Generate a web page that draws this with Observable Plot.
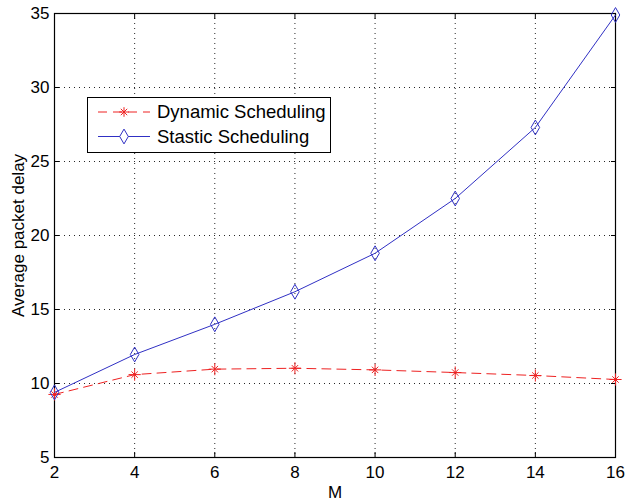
<!DOCTYPE html>
<html><head><meta charset="utf-8">
<script src="https://cdn.jsdelivr.net/npm/d3@7"></script>
<script src="https://cdn.jsdelivr.net/npm/@observablehq/plot@0.6"></script>
<style>
body{margin:0;background:#fff;font-family:"Liberation Sans",Arial,sans-serif;}
#wrap{position:relative;width:629px;height:501px;}
#legend{position:absolute;left:87px;top:97px;width:244px;height:56px;border:1px solid #000;background:#fff;box-sizing:border-box;}
</style></head>
<body><div id="wrap"><div id="chart"></div><svg id="legend" width="244" height="56"></svg></div>
<script>
const M = [2, 4, 6, 8, 10, 12, 14, 16];
const dynamic = [9.26, 10.6, 10.97, 11.03, 10.92, 10.74, 10.54, 10.27];
const stastic = [9.4, 11.96, 14.0, 16.2, 18.8, 22.5, 27.3, 34.9];
const xTicks = [2, 4, 6, 8, 10, 12, 14, 16];
const yTicks = [5, 10, 15, 20, 25, 30, 35];
const seriesNames = ["Dynamic Scheduling", "Stastic Scheduling"];
const red = "#ee2222", blue = "#3030c4";

const dyn = M.map((m, i) => ({m, v: dynamic[i]}));
const sta = M.map((m, i) => ({m, v: stastic[i]}));
const font = "Liberation Sans, Arial, sans-serif";
const fs = 17;

const chart = Plot.plot({
  width: 629, height: 501,
  marginLeft: 54, marginRight: 14, marginTop: 13, marginBottom: 44,
  style: {fontFamily: font, fontSize: fs + "px", color: "#000", background: "#fff"},
  x: {domain: [2, 16]},
  y: {domain: [5, 35]},
  marks: [
    Plot.gridX(xTicks, {stroke: "#000", strokeOpacity: 0.85, strokeDasharray: "1,4"}),
    Plot.gridY(yTicks, {stroke: "#000", strokeOpacity: 0.85, strokeDasharray: "1,4"}),
    Plot.axisX(xTicks, {anchor: "bottom", tickSize: -5, text: null, label: null}),
    Plot.axisX(xTicks, {anchor: "top", tickSize: -5, text: null, label: null}),
    Plot.axisY(yTicks, {anchor: "left", tickSize: -5, text: null, label: null}),
    Plot.axisY(yTicks, {anchor: "right", tickSize: -5, text: null, label: null}),
    Plot.axisX(xTicks, {anchor: "bottom", tickSize: 0, tickPadding: 8, fontSize: fs, label: "M", labelAnchor: "center", labelOffset: 40, labelArrow: "none"}),
    Plot.axisY(yTicks, {anchor: "left", tickSize: 0, tickPadding: 5, fontSize: fs, label: "Average packet delay", labelAnchor: "center", labelOffset: 43, labelArrow: "none"}),
    Plot.frame({stroke: "#000", strokeWidth: 1.2}),
    Plot.line(dyn, {x: "m", y: "v", stroke: red, strokeWidth: 1, strokeDasharray: "9,6"}),
    Plot.dot(dyn, {x: "m", y: "v", symbol: "plus", r: 4, stroke: red, strokeWidth: 1}),
    Plot.dot(dyn, {x: "m", y: "v", symbol: "times", r: 3, stroke: red, strokeWidth: 1}),
    Plot.line(sta, {x: "m", y: "v", stroke: blue, strokeWidth: 1}),
    Plot.dot(sta, {x: "m", y: "v", symbol: "diamond", r: 4.5, stroke: blue, fill: "none", strokeWidth: 1})
  ]
});
document.getElementById("chart").append(chart);

// legend
const lg = d3.select("#legend");
const rows = [
  {name: seriesNames[0], color: red, dash: "9,6", sym: "dyn", y: 14},
  {name: seriesNames[1], color: blue, dash: null, sym: "sta", y: 38.5}
];
rows.forEach(r => {
  lg.append("line").attr("x1", 10).attr("x2", 62).attr("y1", r.y).attr("y2", r.y)
    .attr("stroke", r.color).attr("stroke-dasharray", r.dash).attr("stroke-width", 1);
  if (r.sym === "dyn") {
    lg.append("path").attr("transform", `translate(36,${r.y})`)
      .attr("d", "M-4.8,0H4.8M0,-4.8V4.8M-3.2,-3.2L3.2,3.2M-3.2,3.2L3.2,-3.2").attr("stroke", r.color).attr("fill", "none");
  } else {
    lg.append("path").attr("transform", `translate(36,${r.y})`)
      .attr("d", "M0,-7.4L4.3,0L0,7.4L-4.3,0Z").attr("stroke", r.color).attr("fill", "#fff");
  }
  lg.append("text").attr("x", 69).attr("y", r.y).attr("dy", "0.35em")
    .attr("font-family", font).attr("font-size", 18.5).text(r.name);
});
</script></body></html>
